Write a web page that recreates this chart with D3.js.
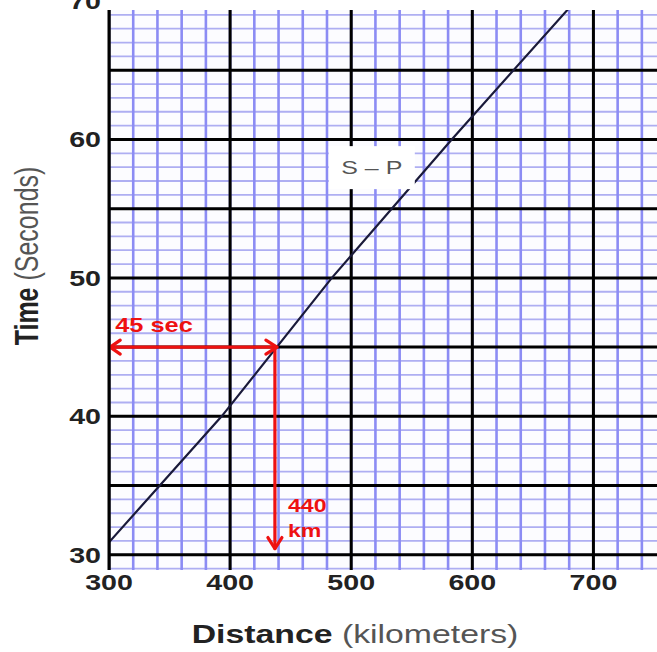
<!DOCTYPE html>
<html><head><meta charset="utf-8">
<script src="https://cdn.jsdelivr.net/npm/d3@7"></script>
<style>html,body{margin:0;padding:0;background:#fff;overflow:hidden}</style>
</head><body>
<script>
// ---- data ----
const xMajorTicks = [300, 400, 500, 600, 700];
const yMajorLines = [30, 35, 40, 45, 50, 55, 60, 65];
const yTickLabels = [30, 40, 50, 60, 70];
const curveKm  = [300, 393, 484, 583, 679];
const curveSec = [30.9, 40, 50, 60, 69.4];
const readKm = [437];     // arrow position on the chart (labelled 440 km)
const readSec = [45];
const annotSec = ["45 sec"];
const annotKm = ["440", "km"];
const curveLabel = ["S \u2013 P"];

const W = 657, H = 652;
const svg = d3.select("body").append("svg").attr("width", W).attr("height", H);

const x = d3.scaleLinear().domain([300, 752.5]).range([109, 657]);
const y = d3.scaleLinear().domain([28.9, 69.35]).range([570, 10]);

const [x0, x1] = x.range(), [yb, yt] = y.range();

svg.append("defs").append("clipPath").attr("id", "clip")
  .append("rect").attr("x", x0).attr("y", yt).attr("width", x1 - x0).attr("height", yb - yt);

const plot = svg.append("g").attr("clip-path", "url(#clip)");
plot.append("rect").attr("x", x0).attr("y", yt).attr("width", x1 - x0).attr("height", yb - yt).attr("fill", "#fcfcff");

// minor grid
const xMinor = d3.range(300, 760, 20);
const yMinor = d3.range(29, 70, 1);
plot.selectAll(".hm").data(yMinor).join("line")
  .attr("x1", x0).attr("x2", x1).attr("y1", d => y(d)).attr("y2", d => y(d))
  .attr("stroke", "#aeaef2").attr("stroke-width", 1.8);
plot.selectAll(".vm").data(xMinor).join("line")
  .attr("x1", d => x(d)).attr("x2", d => x(d)).attr("y1", yt).attr("y2", yb)
  .attr("stroke", "#8c8cf4").attr("stroke-width", 2.6);

// major grid
plot.selectAll(".hM").data(yMajorLines).join("line")
  .attr("x1", x0).attr("x2", x1).attr("y1", d => y(d)).attr("y2", d => y(d))
  .attr("stroke", "#000").attr("stroke-width", 3);
plot.selectAll(".vM").data(xMajorTicks).join("line")
  .attr("x1", d => x(d)).attr("x2", d => x(d)).attr("y1", yt).attr("y2", yb)
  .attr("stroke", "#000").attr("stroke-width", 3);

// curve
const pts = curveKm.map((k, i) => [k, curveSec[i]]);
plot.append("path").datum(pts)
  .attr("d", d3.line().x(d => x(d[0])).y(d => y(d[1])))
  .attr("fill", "none").attr("stroke", "#1a1a3a").attr("stroke-width", 2.2);

// S-P label box
const lx = x(517), ly = y(58);
plot.append("rect").attr("x", lx - 43).attr("y", ly - 21).attr("width", 86).attr("height", 43).attr("fill", "#fff");
svg.append("text").attr("transform", `translate(${lx},${ly + 7}) scale(1.35,1)`)
  .attr("text-anchor", "middle").attr("font-family", "Liberation Sans, Arial, sans-serif")
  .attr("font-size", 18.5).attr("fill", "#555").text(curveLabel[0]);

// arrows
const red = "#ee1111";
const ax = x(readKm[0]), ay = y(readSec[0]);
const ayEnd = y(30.45), axStart = x(301);
const ar = svg.append("g").attr("stroke", red).attr("stroke-width", 3.2).attr("fill", "none")
  .attr("stroke-linecap", "round").attr("stroke-linejoin", "round");
ar.append("line").attr("x1", axStart).attr("x2", ax + 2).attr("y1", ay).attr("y2", ay);
ar.append("path").attr("d", `M${axStart + 10},${ay - 7} L${axStart},${ay} L${axStart + 10},${ay + 7}`);
ar.append("path").attr("d", `M${ax - 9},${ay - 7} L${ax + 2},${ay} L${ax - 9},${ay + 7}`);
ar.append("line").attr("x1", ax).attr("x2", ax).attr("y1", ay).attr("y2", ayEnd);
ar.append("path").attr("d", `M${ax - 7},${ayEnd - 11} L${ax},${ayEnd} L${ax + 7},${ayEnd - 11}`);

const rf = "Liberation Sans, Arial, sans-serif";
svg.append("text").attr("transform", `translate(${axStart + 5},${ay - 15}) scale(1.3,1)`)
  .attr("font-family", rf).attr("font-weight", "bold").attr("font-size", 19.5).attr("fill", red).text(annotSec[0]);
svg.append("text").attr("transform", `translate(${ax + 13},${y(33.1)}) scale(1.25,1)`)
  .attr("font-family", rf).attr("font-weight", "bold").attr("font-size", 18.5).attr("fill", red).text(annotKm[0]);
svg.append("text").attr("transform", `translate(${ax + 13},${y(31.3)}) scale(1.25,1)`)
  .attr("font-family", rf).attr("font-weight", "bold").attr("font-size", 18.5).attr("fill", red).text(annotKm[1]);

// left axis line
svg.append("line").attr("x1", x0).attr("x2", x0).attr("y1", yt).attr("y2", yb)
  .attr("stroke", "#000").attr("stroke-width", 3);

// tick labels
svg.selectAll(".xt").data(xMajorTicks).join("text")
  .attr("transform", d => `translate(${x(d)},${yb + 20}) scale(1.3,1)`)
  .attr("text-anchor", "middle").attr("font-family", rf).attr("font-weight", "bold")
  .attr("font-size", 22).attr("fill", "#222").text(d => d);
svg.selectAll(".yt").data(yTickLabels).join("text")
  .attr("transform", d => `translate(${x0 - 8},${y(d) + 8}) scale(1.3,1)`)
  .attr("text-anchor", "end").attr("font-family", rf).attr("font-weight", "bold")
  .attr("font-size", 22).attr("fill", "#222").text(d => d);

// axis titles
const xt = svg.append("text").attr("transform", `translate(355,643) scale(1.3,1)`)
  .attr("text-anchor", "middle").attr("font-family", rf).attr("font-size", 26);
xt.append("tspan").attr("font-weight", "bold").attr("fill", "#222").text("Distance");
xt.append("tspan").attr("fill", "#555").text(" (kilometers)");

const yl = svg.append("text").attr("transform", `translate(38,256) rotate(-90) scale(1,1.3)`)
  .attr("text-anchor", "middle").attr("font-family", rf).attr("font-size", 25);
yl.append("tspan").attr("font-weight", "bold").attr("fill", "#222").text("Time");
yl.append("tspan").attr("fill", "#555").text(" (Seconds)");
</script>
</body></html>
